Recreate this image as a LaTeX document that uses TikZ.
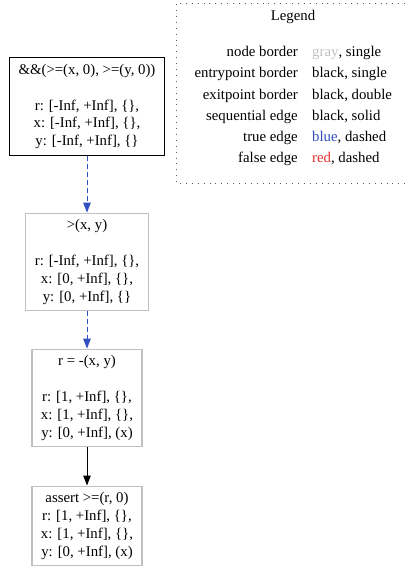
\documentclass[tikz,border=0pt]{standalone}
\usepackage{fontspec}
\setmainfont{Liberation Serif}
\usetikzlibrary{arrows.meta,positioning}

\definecolor{nodegray}{HTML}{C0C0C0}
\definecolor{trueblue}{HTML}{2F4FBF}
\definecolor{falsered}{HTML}{E8302A}
\newcommand{\gvfont}{\fontsize{14.8}{17.8}\selectfont}

\begin{document}
\begin{tikzpicture}[x=1pt, y=-1pt,
    block/.style={draw=nodegray, line width=1.1pt, align=center, font=\gvfont,
      inner xsep=9pt, inner ysep=6.5pt},
    entrybox/.style={block, draw=black},
    seqedge/.style={-{Triangle[length=10pt,width=7.5pt]}, line width=1pt},
    trueedge/.style={seqedge, trueblue, dash pattern=on 5pt off 3pt},
    legtext/.style={font=\gvfont, text height=10pt, text depth=3pt, inner sep=0pt}]
  \useasboundingbox (0,0) rectangle (405,568);

  % --- Legend ---
  \draw[line width=0.9pt, dash pattern=on 0.9pt off 5pt, black!65]
    (405,3) -- (176,3) -- (176,183) -- (405,183);
  \node[legtext] (legtitle) at (293,17) {Legend};
  \foreach \y/\lab/\val in {53/node border/{\textcolor{nodegray}{gray}, single},
      74/entrypoint border/{black, single},
      96/exitpoint border/{black, double},
      117/sequential edge/{black, solid},
      138/true edge/{\textcolor{trueblue}{blue}, dashed},
      159/false edge/{\textcolor{falsered}{red}, dashed}} {
    \node[legtext, anchor=east] (lab\y) at (298,\y) {\lab};
    \node[legtext, anchor=west] (val\y) at (312,\y) {\val};
  }

  % --- Knoten ---
  \node[entrybox] (entry) at (87,106.5)
    {\&\&(>=(x, 0), >=(y, 0))\\[17.8pt]
     r: [-Inf, +Inf], \{\},\\ x: [-Inf, +Inf], \{\},\\ y: [-Inf, +Inf], \{\}};
  \node[block] (cond) at (87,262)
    {>(x, y)\\[17.8pt]
     r: [-Inf, +Inf], \{\},\\ x: [0, +Inf], \{\},\\ y: [0, +Inf], \{\}};
  \node[block] (sub) at (87,398)
    {r = -(x, y)\\[17.8pt]
     r: [1, +Inf], \{\},\\ x: [1, +Inf], \{\},\\ y: [0, +Inf], (x)};
  \node[block] (assert) at (87,526)
    {assert >=(r, 0)\\
     r: [1, +Inf], \{\},\\ x: [1, +Inf], \{\},\\ y: [0, +Inf], (x)};

  % --- Kanten ---
  \draw[trueedge] (entry) -- (cond);
  \draw[trueedge] (cond) -- (sub);
  \draw[seqedge] (sub) -- (assert);
\end{tikzpicture}
\end{document}
